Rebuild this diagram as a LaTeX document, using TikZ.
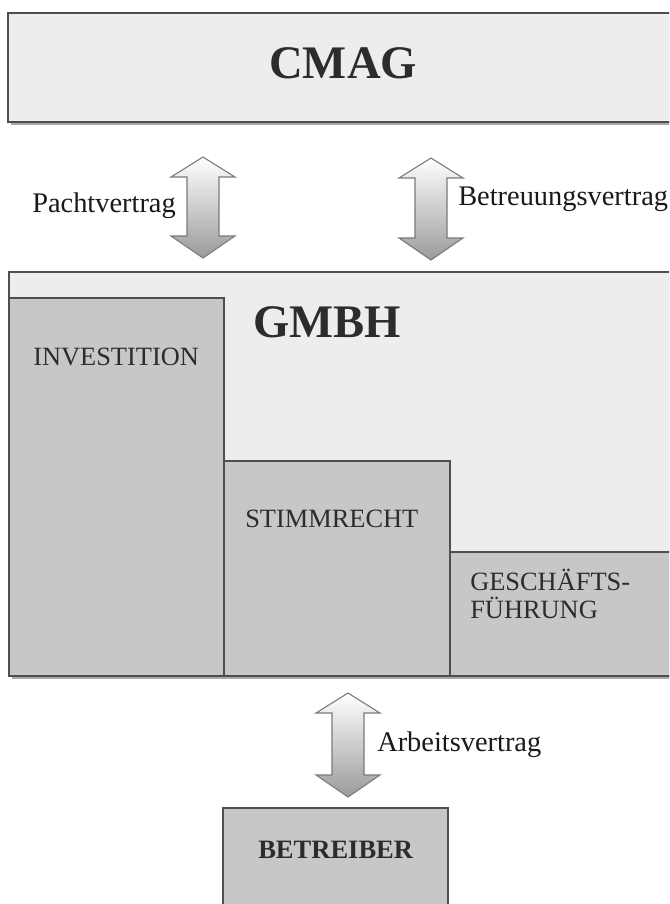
\documentclass[tikz,border=0pt]{standalone}
\usepackage{fontspec}
\setmainfont{Liberation Serif}
\usetikzlibrary{calc}

\definecolor{boxline}{HTML}{4E4E4E}
\definecolor{outerfill}{HTML}{EDEDED}
\definecolor{innerfill}{HTML}{C7C7C7}
\definecolor{boxshadow}{HTML}{A8A8A8}
\definecolor{arrline}{HTML}{7A7A7A}
\definecolor{arrshade}{HTML}{9A9A9A}
\definecolor{ink}{HTML}{2C2C2C}

\tikzset{
  frame/.style={draw=boxline, line width=1.1pt},
  title/.style={font=\fontsize{35}{40}\selectfont\bfseries, text=ink, anchor=base west, inner sep=0pt},
  part/.style={font=\fontsize{19.8}{21}\selectfont, text=ink, anchor=base west, inner sep=0pt, align=left},
  contract/.style={font=\fontsize{21.3}{24}\selectfont, text=black!90, anchor=base west, inner sep=0pt},
}

% block arrow with two heads, #1 upper tip, #2 lower tip
\newcommand{\vertrag}[2]{%
  \draw[draw=arrline, line width=0.8pt, top color=white, bottom color=arrshade]
    (#1) -- ++(32,20) -- ++(-16,0) -- ($(#2)+(16,-22)$) -- ++(16,0) -- (#2)
    -- ++(-32,-22) -- ++(16,0) -- ($(#1)+(-16,20)$) -- ++(-16,0) -- cycle;
}

\begin{document}
\begin{tikzpicture}[x=0.75pt, y=-0.75pt]
	\clip (0,0) rectangle (669,904);

	% CMAG
	\fill[boxshadow] (11,16) rectangle (700,125);
	\draw[frame, fill=outerfill] (8,13) rectangle (700,122);
	\node[title] (cmag) at (269,78) {CMAG};

	% contracts between CMAG and GMBH
	\coordinate (pacht-t) at (203,157);
	\coordinate (pacht-b) at (203,258);
	\coordinate (betreu-t) at (431,158);
	\coordinate (betreu-b) at (431,260);
	\vertrag{pacht-t}{pacht-b}
	\vertrag{betreu-t}{betreu-b}
	\node[contract] (pacht) at (32,212) {Pachtvertrag};
	\node[contract] (betreu) at (458,205) {Betreuungsvertrag};

	% GMBH with its three shares
	\fill[boxshadow] (12,275) rectangle (700,679);
	\draw[frame, fill=outerfill] (9,272) rectangle (700,676);
	\draw[frame, fill=innerfill] (9,298) rectangle (224,676);
	\draw[frame, fill=innerfill] (224,461) rectangle (450,676);
	\draw[frame, fill=innerfill] (450,552) rectangle (700,676);
	\node[title] (gmbh) at (253,337) {GMBH};
	\node[part] (invest) at (33,365) {INVESTITION};
	\node[part] (stimm) at (245,527) {STIMMRECHT};
	\node[part] (fuehrung) at (470,618) {GESCHÄFTS-\\FÜHRUNG};

	% Betreiber
	\coordinate (arbeit-t) at (348,693);
	\coordinate (arbeit-b) at (348,797);
	\vertrag{arbeit-t}{arbeit-b}
	\node[contract] (arbeit) at (377,751) {Arbeitsvertrag};

	\draw[frame, fill=innerfill] (223,808) rectangle (448,920);
	\node[part, font=\fontsize{19.9}{21}\selectfont\bfseries] (betreiber) at (258,858) {BETREIBER};
\end{tikzpicture}
\end{document}
